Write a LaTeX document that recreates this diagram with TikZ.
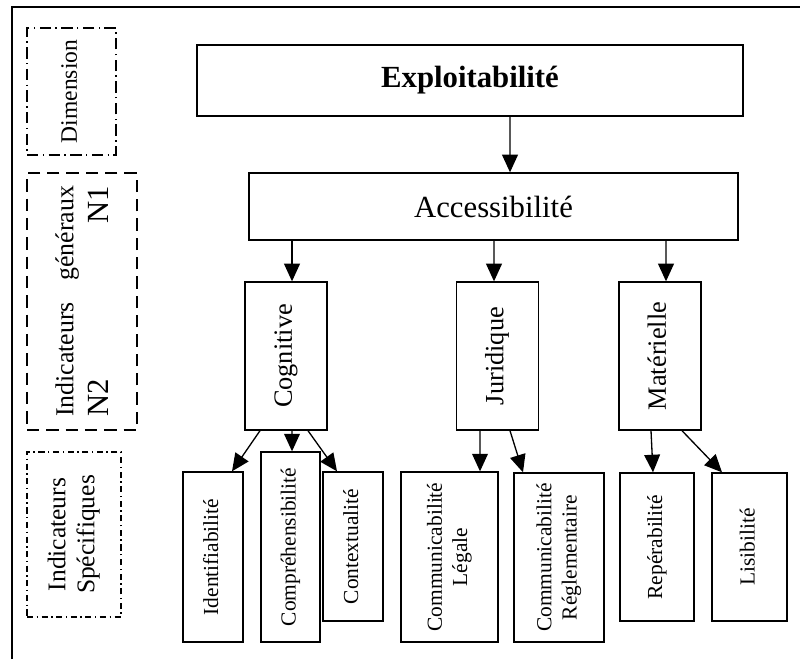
\documentclass[tikz,border=0pt]{standalone}
\usepackage{fontspec}
\setmainfont{Liberation Serif}
\usetikzlibrary{arrows.meta,calc}
\newcommand{\vtxt}[1]{\rotatebox{90}{\begin{tabular}{@{}c@{}}#1\end{tabular}}}

\begin{document}
\begin{tikzpicture}[
  x=0.02cm, y=-0.02cm,
  blk/.style={draw,line width=0.8pt,inner sep=0pt,align=center},
  mid/.style={blk,minimum width=1.64cm,minimum height=2.96cm,
              font=\fontsize{15}{17}\selectfont},
  leaf/.style={blk,font=\fontsize{12.2}{14.4}\selectfont},
  side/.style={draw,line width=0.75pt,inner sep=0pt},
  ar/.style={-{Triangle[length=10pt,width=9pt]},line width=0.75pt}
]
\useasboundingbox (0,0) rectangle (800,659);
\draw[line width=0.8pt] (12,659) -- (12,7) -- (800,7);

% level labels on the left
\node[side,dash pattern=on 6.5pt off 2.5pt on 0.8pt off 2.5pt,
  minimum width=1.78cm,minimum height=2.54cm,font=\fontsize{13.4}{15}\selectfont]
  (dim) at (71.5,91.5) {\vtxt{Dimension}};
\node[side,dash pattern=on 7pt off 4pt,minimum width=2.2cm,minimum height=5.14cm,
  font=\fontsize{14.7}{17}\selectfont]
  (gen) at (82,301.5) {\rotatebox{90}{\parbox{4.62cm}{Indicateurs\hfill généraux\\
  \fontsize{17.5}{20}\selectfont N2\hfill N1}}};
\node[side,dash pattern=on 3.5pt off 2pt on 0.8pt off 2pt,
  minimum width=1.88cm,minimum height=3.3cm,font=\fontsize{14.5}{16.5}\selectfont]
  (spec) at (74,534.5) {\vtxt{Indicateurs\\Spécifiques}};

% tree
\node[blk,minimum width=10.92cm,minimum height=1.42cm,
  font=\fontsize{17.5}{20}\selectfont\bfseries] (expl) at (470,80.5) {Exploitabilité};
\node[blk,minimum width=9.78cm,minimum height=1.34cm,
  font=\fontsize{17.5}{20}\selectfont] (acc) at (493.5,206.5) {Accessibilité};

\node[mid] (cog) at (286,356) {\vtxt{Cognitive}};
\node[mid] (jur) at (497.5,356) {\vtxt{Juridique}};
\node[mid] (mat) at (660,356) {\vtxt{Matérielle}};

\node[leaf,minimum width=1.2cm,minimum height=3.4cm] (ident) at (213,557)
  {\vtxt{Identifiabilité}};
\node[leaf,minimum width=1.18cm,minimum height=3.8cm] (compr) at (290.5,547)
  {\vtxt{Compréhensibilité}};
\node[leaf,minimum width=1.2cm,minimum height=2.98cm] (ctx) at (353,546.5)
  {\vtxt{Contextualité}};
\node[leaf,minimum width=1.94cm,minimum height=3.4cm] (leg) at (449.5,557)
  {\vtxt{Communicabilité\\Légale}};
\node[leaf,minimum width=1.8cm,minimum height=3.38cm] (regl) at (559,557.5)
  {\vtxt{Communicabilité\\Réglementaire}};
\node[leaf,minimum width=1.48cm,minimum height=2.96cm] (rep) at (657,547)
  {\vtxt{Repérabilité}};
\node[leaf,minimum width=1.5cm,minimum height=2.96cm] (lis) at (749.5,547)
  {\vtxt{Lisibilité}};

\foreach \a/\da/\b/\db in {expl/40/acc/16.5, acc/-201.5/cog/6, acc/0.5/jur/-3.5,
    acc/172.5/mat/6, cog/-26/ident/19, cog/6/compr/1.5, cog/22/ctx/-16,
    jur/-17.5/leg/30.5, jur/12.5/regl/-36, mat/-9/rep/-4, mat/22/lis/-27.5}
  \draw[ar] ($(\a.south)+(\da,0)$) -- ($(\b.north)+(\db,0)$);
\end{tikzpicture}
\end{document}
